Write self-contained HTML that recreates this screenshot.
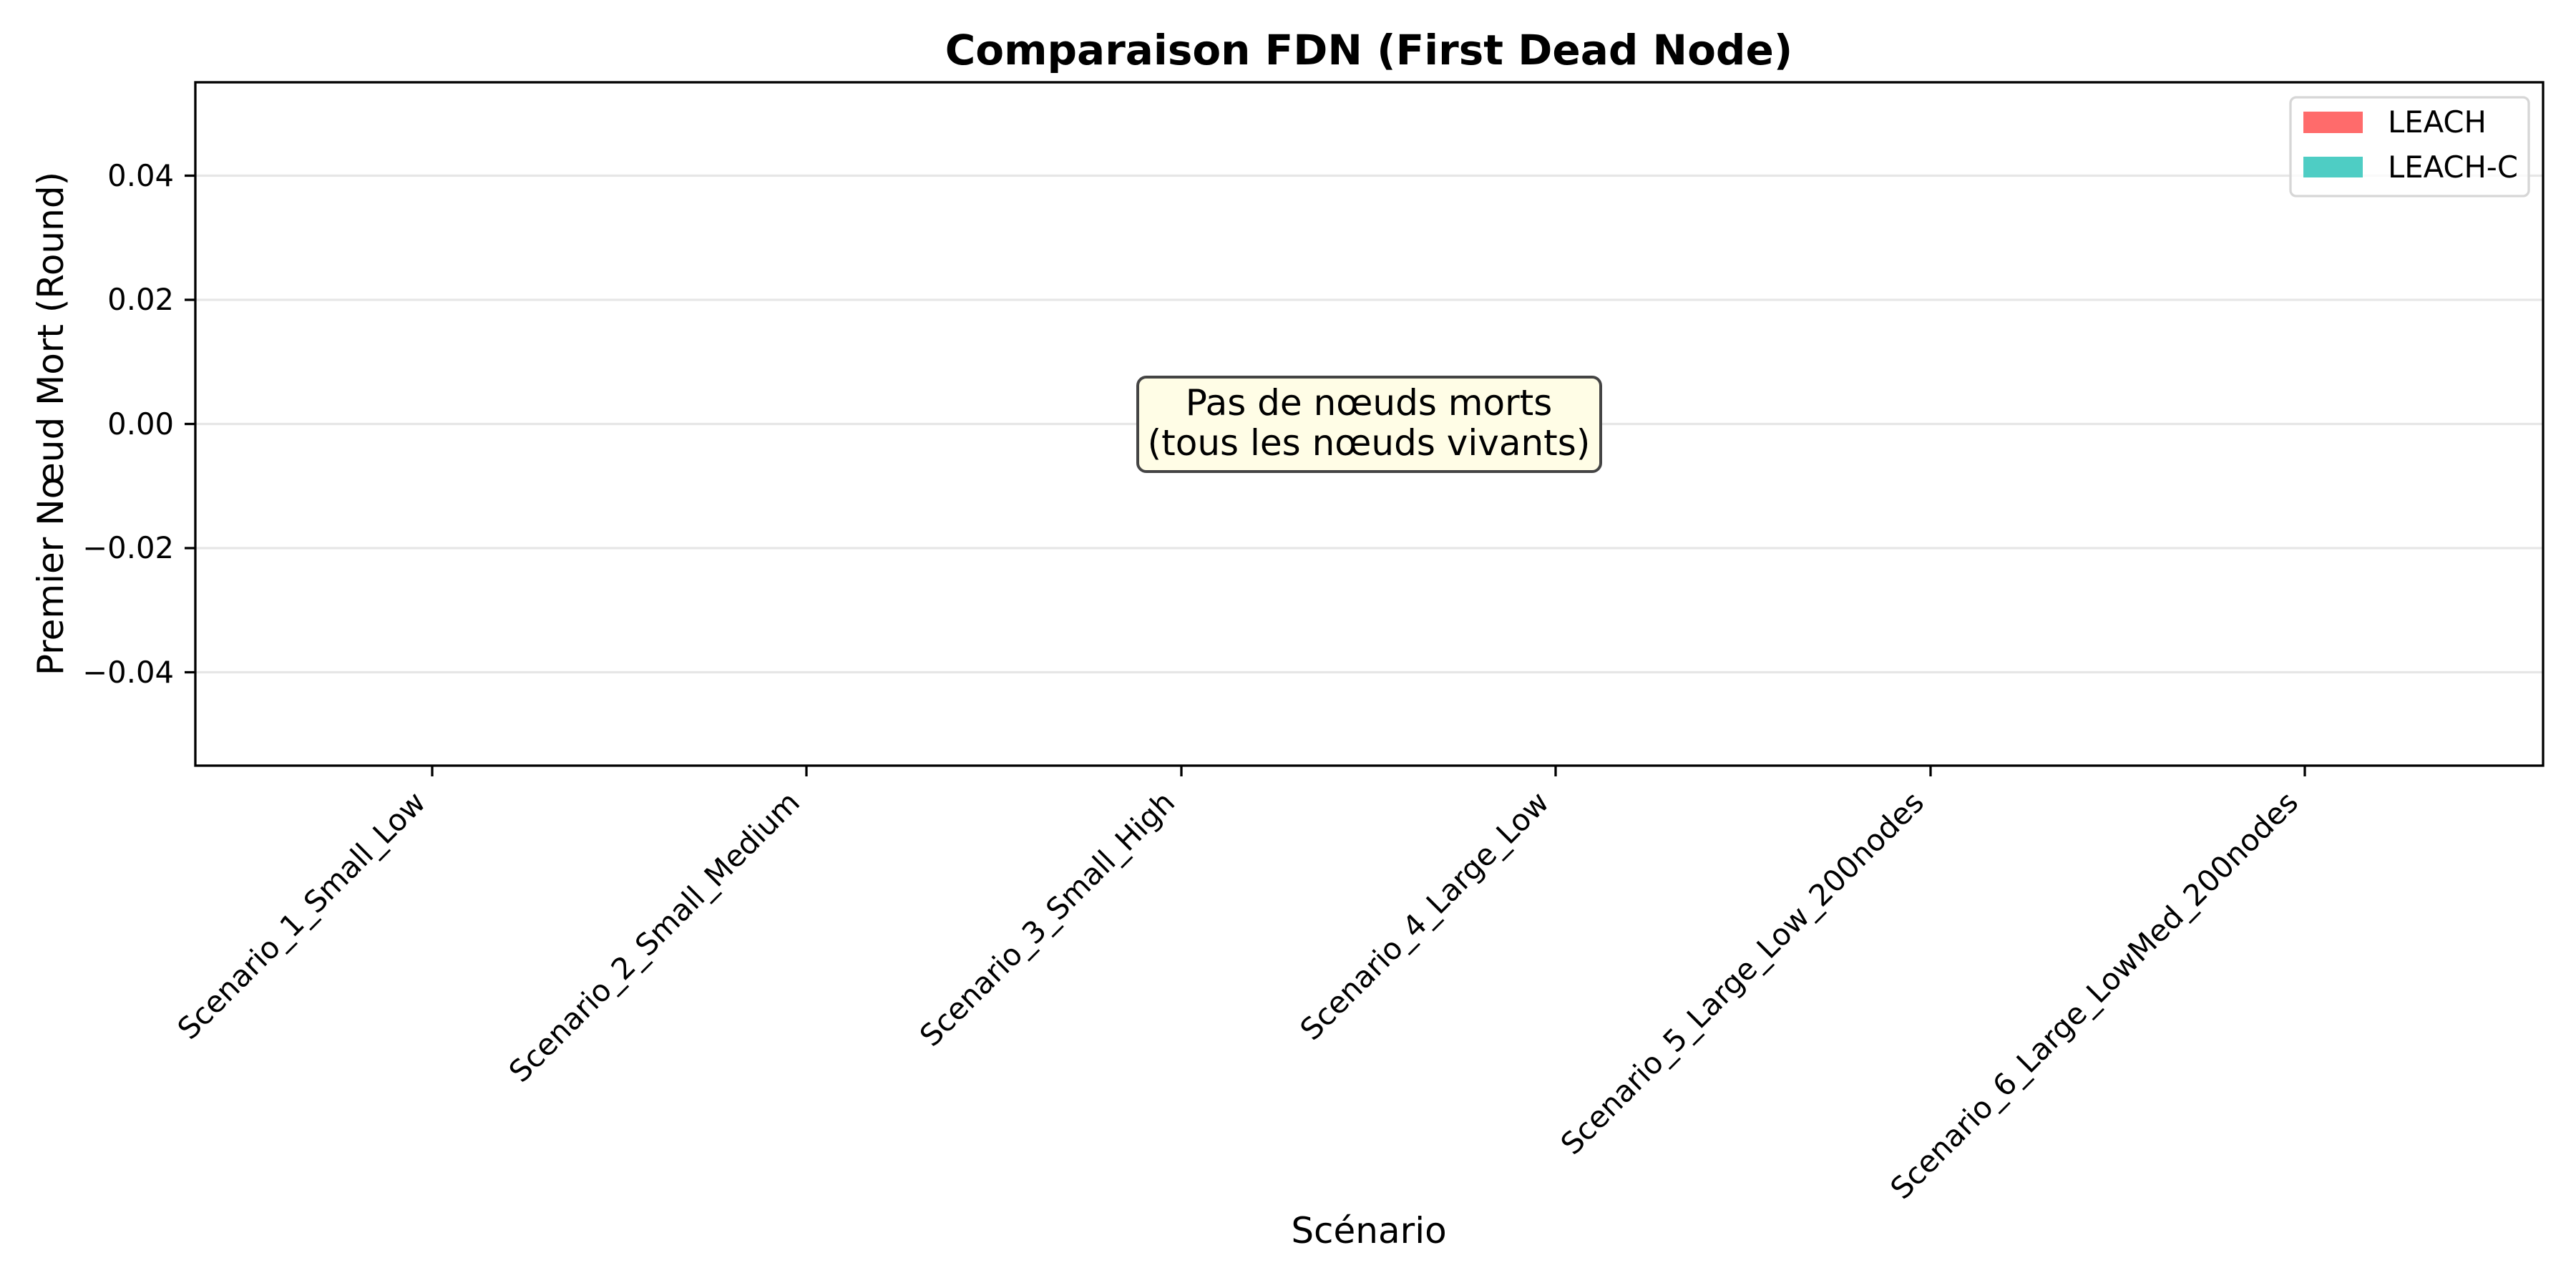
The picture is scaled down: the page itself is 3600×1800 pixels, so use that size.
<!DOCTYPE html>
<html><head><meta charset="utf-8"><style>body{margin:0;background:#fff}svg{display:block}</style></head>
<body>
<svg width="3600" height="1800" xmlns="http://www.w3.org/2000/svg" font-family="'DejaVu Sans','Liberation Sans',sans-serif">
<rect width="3600" height="1800" fill="#fff"/>
<g stroke="#e6e6e6" stroke-width="3.3">
<line x1="273" x2="3554" y1="245.5" y2="245.5"/>
<line x1="273" x2="3554" y1="419" y2="419"/>
<line x1="273" x2="3554" y1="592.5" y2="592.5"/>
<line x1="273" x2="3554" y1="766" y2="766"/>
<line x1="273" x2="3554" y1="939.5" y2="939.5"/>
</g>
<rect x="273" y="115" width="3281" height="955" fill="none" stroke="#000" stroke-width="3.3"/>
<g stroke="#000" stroke-width="3.3">
<line x1="258" x2="273" y1="245.5" y2="245.5"/><line x1="258" x2="273" y1="419" y2="419"/><line x1="258" x2="273" y1="592.5" y2="592.5"/><line x1="258" x2="273" y1="766" y2="766"/><line x1="258" x2="273" y1="939.5" y2="939.5"/>
<line x1="604" x2="604" y1="1070" y2="1085"/><line x1="1127" x2="1127" y1="1070" y2="1085"/><line x1="1651" x2="1651" y1="1070" y2="1085"/><line x1="2174" x2="2174" y1="1070" y2="1085"/><line x1="2698" x2="2698" y1="1070" y2="1085"/><line x1="3221" x2="3221" y1="1070" y2="1085"/>
</g>
<g font-size="41.7" text-anchor="end" fill="#000">
<text x="243" y="260">0.04</text><text x="243" y="433">0.02</text><text x="243" y="607">0.00</text><text x="243" y="780">−0.02</text><text x="243" y="954">−0.04</text>
</g>
<g font-size="41.7" text-anchor="end" fill="#000">
<text transform="translate(597,1124) rotate(-45)">Scenario_1_Small_Low</text>
<text transform="translate(1120,1124) rotate(-45)">Scenario_2_Small_Medium</text>
<text transform="translate(1644,1124) rotate(-45)">Scenario_3_Small_High</text>
<text transform="translate(2167,1124) rotate(-45)">Scenario_4_Large_Low</text>
<text transform="translate(2691,1124) rotate(-45)">Scenario_5_Large_Low_200nodes</text>
<text transform="translate(3214,1124) rotate(-45)">Scenario_6_Large_LowMed_200nodes</text>
</g>
<text x="1913" y="1737" font-size="50" text-anchor="middle">Scénario</text>
<text transform="translate(88,592) rotate(-90)" font-size="50" text-anchor="middle">Premier Nœud Mort (Round)</text>
<text x="1913" y="90" font-size="58" font-weight="bold" text-anchor="middle">Comparaison FDN (First Dead Node)</text>
<rect x="1590" y="527" width="647" height="132" rx="12" fill="#fffde6" stroke="#444" stroke-width="4"/>
<g font-size="50" text-anchor="middle"><text x="1913" y="580">Pas de nœuds morts</text><text x="1913" y="636">(tous les nœuds vivants)</text></g>
<rect x="3201" y="136" width="333" height="138" rx="8" fill="#fff" fill-opacity="0.8" stroke="#d6d6d6" stroke-width="3.3"/>
<rect x="3219" y="156" width="83" height="30" fill="#ff6b6b"/>
<rect x="3219" y="219" width="83" height="29" fill="#4ecdc4"/>
<g font-size="41.7"><text x="3337" y="185">LEACH</text><text x="3337" y="248">LEACH-C</text></g>
</svg>
</body></html>
